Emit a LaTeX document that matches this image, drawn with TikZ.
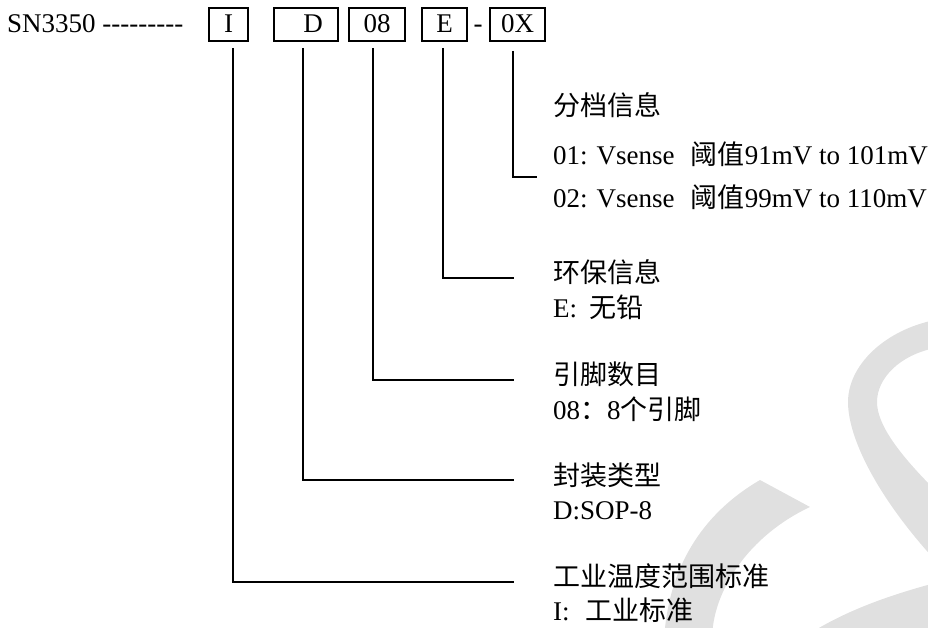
\documentclass[tikz,border=0pt]{standalone}
\usepackage{fontspec}
\setmainfont{Liberation Serif}
\newfontfamily\cjk{Noto Sans CJK SC}
\begin{document}
\begin{tikzpicture}[x=1pt,y=-1pt,
  every node/.style={font=\fontsize{27}{32}\selectfont},
  box/.style={draw, line width=1.8pt, minimum height=33pt, inner sep=0pt, text height=17pt, text depth=0pt, anchor=center},
  lbl/.style={anchor=base west, inner sep=0pt},
  conn/.style={line width=1.8pt},
  wm/.style={fill=black!12, draw=none}]
\useasboundingbox (0,0) rectangle (928,628);
% watermark
\begin{scope}
\clip (0,0) rectangle (928,628);
\fill[wm] (935,320) .. controls (885,330) and (848,365) .. (848,402) .. controls (848,440) and (880,500) .. (935,560) -- (935,490) .. controls (900,455) and (877,425) .. (877,402) .. controls (877,378) and (900,355) .. (935,348) -- cycle;
\fill[wm] (760,480) .. controls (700,515) and (668,570) .. (664,640) -- (712,640) .. controls (712,590) and (750,535) .. (810,507) -- cycle;
\fill[wm] (800,640) .. controls (840,612) and (890,595) .. (935,583) -- (935,640) -- cycle;
\end{scope}
% top row
\node[lbl] (sn) at (7,33) {SN3350 -{}-{}-{}-{}-{}-{}-{}-{}-};
\node[box, minimum width=39pt] (bI) at (228.5,24.5) {I};
\node[box, minimum width=64pt] (bD) at (306,24.5) {\hspace{14pt}D};
\node[box, minimum width=56pt] (b08) at (377,24.5) {08};
\node[box, minimum width=45pt] (bE) at (444.5,24.5) {E};
\node[anchor=base, inner sep=0pt] (dash) at (478,33) {-};
\node[box, minimum width=55pt] (bX) at (517.5,24.5) {0X\hspace{18pt}};
% connector ends
\coordinate (eI) at (514,582);
\coordinate (eD) at (514,480);
\coordinate (e08) at (514,380);
\coordinate (eE) at (514,278);
\coordinate (eX) at (537,177);
\draw[conn] ([xshift=4.5pt,yshift=-6pt]bI.south) |- (eI);
\draw[conn] ([xshift=-3pt,yshift=-6pt]bD.south) |- (eD);
\draw[conn] ([xshift=-4pt,yshift=-6pt]b08.south) |- (e08);
\draw[conn] ([xshift=-1.5pt,yshift=-6pt]bE.south) |- (eE);
\draw[conn] ([xshift=-4.5pt,yshift=-9pt]bX.south) |- (eX);
% labels
\node[lbl] (tX) at (553,116) {\cjk 分档信息};
\node[lbl] (tX1) at (553,165) {01: Vsense\hspace{0.6em}{\cjk 阈值}91mV to 101mV};
\node[lbl] (tX2) at (553,208) {02: Vsense\hspace{0.6em}{\cjk 阈值}99mV to 110mV};
\node[lbl] (tE) at (553,282) {\cjk 环保信息};
\node[lbl] (tE1) at (553,317) {E:\hspace{0.45em}{\cjk 无铅}};
\node[lbl] (t08) at (553,384) {\cjk 引脚数目};
\node[lbl] (t081) at (553,419) {08{\cjk ：}8{\cjk 个引脚}};
\node[lbl] (tD) at (553,485) {\cjk 封装类型};
\node[lbl] (tD1) at (553,519) {D:SOP-8};
\node[lbl] (tI) at (553,586) {\cjk 工业温度范围标准};
\node[lbl] (tI1) at (553,620) {I:\hspace{0.6em}{\cjk 工业标准}};
\end{tikzpicture}
\end{document}
